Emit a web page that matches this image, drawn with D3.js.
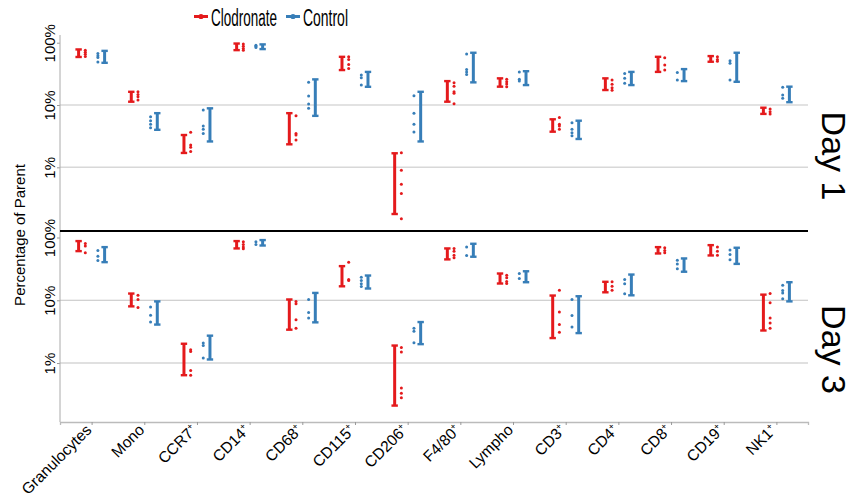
<!DOCTYPE html>
<html>
<head>
<meta charset="utf-8">
<script src="https://cdn.jsdelivr.net/npm/d3@7"></script>
<style>
  body { margin: 0; background: #fff; }
  text { font-family: "Liberation Sans", Arial, sans-serif; fill: #000; }
</style>
</head>
<body>
<div class="chart"></div>
<script>
// categories on the x axis, and whether the label carries a superscript "+"
var cats = ["Granulocytes", "Mono", "CCR7", "CD14", "CD68", "CD115", "CD206",
            "F4/80", "Lympho", "CD3", "CD4", "CD8", "CD19", "NK1"];
var plusMark = [false, false, true, true, true, true, true, true, false, true, true, true, true, true];
var groups = ["Clodronate", "Control"];
var yTicks = [100, 10, 1];

// Day 1 - range bars [low, high] and single samples, in percent of parent
var day1ClodBars = [[59, 78], [11.3, 16.3], [1.7, 3.3], [76, 97], [2.34, 7.4], [36.4, 59.4], [0.178, 1.68],
                    [11.3, 24.2], [19.7, 26.8], [3.73, 5.9], [17.4, 26.8], [34, 59.4], [49.5, 61], [7.2, 9.05]];
var day1ClodPts = [[76, 70, 65, 60], [16.3, 14.8, 13.6, 12], [3.65, 2.28, 2.1, 1.8], [95, 88, 81, 76],
                   [6.7, 3.5, 3.3, 2.75], [59.4, 54, 44.9, 38.7], [1.72, 0.9, 0.536, 0.38, 0.15],
                   [22.8, 20.1, 16.3, 15.4, 10.5], [26, 23.6, 21.7, 19.7], [6.3, 4.9, 4.6, 4.1],
                   [25.2, 21.5, 19, 17.2], [57.3, 43.8, 36.4], [59.4, 54, 50.6], [8.6, 7.8, 7.2]];
var day1CtrlBars = [[47.6, 74], [4.0, 7.4], [2.6, 8.85], [79, 94], [6.7, 25.8], [19.6, 34], [2.6, 16.3],
                    [23.1, 69], [20.9, 34.9], [2.85, 5.6], [20.9, 34], [24.2, 37.7], [23.6, 69], [11.1, 19.7]];
var day1CtrlPts = [[67, 62, 58, 49], [6.5, 5.6, 4.9, 4.3], [8.3, 4.6, 4.1, 3.5], [91, 88, 84],
                   [23.1, 13.9, 10.4, 8.85], [30.2, 27.4, 20.9], [14.1, 7.4, 4.9, 3.7],
                   [65.6, 37.3, 34, 31], [34, 25.8, 24.2], [5.2, 4.07, 3.6, 3.2],
                   [32, 26.8, 22.3], [33.4, 25.2], [51.3, 46.6, 25.2], [19.2, 14.5, 12.8]];

// Day 3
var day3ClodBars = [[60.7, 87.7], [8.0, 12.8], [0.64, 2.03], [67, 87.7], [3.4, 10.3], [16.7, 35], [0.21, 1.9],
                    [44.8, 67], [18.5, 26.7], [2.5, 11.9], [13.4, 19.7], [55.7, 70.3], [51.8, 75.6], [3.3, 12.3]];
var day3ClodPts = [[80.5, 73, 57], [12, 10.3, 7.7], [1.63, 1.53, 0.76, 0.64], [85.6, 77.5, 70.3, 66],
                   [9.6, 8.8, 4.9, 3.6], [40.5, 21.4, 20.6], [1.77, 1.5, 0.4, 0.33, 0.28],
                   [67, 60.6, 52.3, 47.5], [25, 22.8, 20, 18.5], [14.4, 6.5, 4.1, 3.1],
                   [19.7, 16.7, 14.4], [68.7, 62, 57], [70.3, 60.6, 52.3], [12.8, 9.1, 5.2, 4.35, 3.6]];
var day3CtrlBars = [[40.5, 70.3], [4.1, 9.6], [1.14, 2.73], [74.6, 91], [4.45, 13.1], [15.4, 24.8], [2, 4.5],
                    [49.4, 79.5], [19.4, 29], [3.0, 11.6], [12, 25.7], [28.5, 46.4], [38, 68.7], [9.6, 19.4]];
var day3CtrlPts = [[62, 50.5, 43], [7.8, 5.8, 4.5], [2.08, 1.9, 1.2], [85.6, 77.5],
                   [10.3, 6.4, 5.2], [23.3, 20.6, 18.3, 16.6], [3.6, 3.2, 2.1],
                   [70.3, 51.8], [26.7, 22.2], [10.3, 5.7, 3.75],
                   [21.4, 18.3, 12.7], [43.6, 38, 31.7], [63, 53.7, 44.3], [17.4, 14.3, 13.1, 10.6]];

var colors = {Clodronate: "#e41a1c", Control: "#377eb8"};

var svgWidth = 853, svgHeight = 503;
var left = 60, right = 808;

var svg = d3.select(".chart").append("svg")
  .attr("width", svgWidth)
  .attr("height", svgHeight);

var x = d3.scalePoint().domain(cats).range([left, right]).padding(0.6);

// two stacked log panels
var panels = [
  {label: "Day 1", top: 35, bottom: 231, domain: [0.095, 133],
   series: [["Clodronate", day1ClodBars, day1ClodPts], ["Control", day1CtrlBars, day1CtrlPts]],
   grid: "#d8d8d8", gridW: 1.6},
  {label: "Day 3", top: 231, bottom: 422, domain: [0.115, 127],
   series: [["Clodronate", day3ClodBars, day3ClodPts], ["Control", day3CtrlBars, day3CtrlPts]],
   grid: "#c2c2c2", gridW: 1.1}
];

// offsets of bar / dots relative to category tick
var offs = {Clodronate: {bar: -13, pts: -6.3}, Control: {bar: 13, pts: 6.3}};

panels.forEach(function(p, pi) {
  var y = d3.scaleLog().domain(p.domain).range([p.bottom, p.top]);
  var g = svg.append("g");

  // gridlines at 10% and 1%
  g.selectAll(".grid").data([10, 1]).enter().append("line")
    .attr("x1", left).attr("x2", right)
    .attr("y1", d => y(d)).attr("y2", d => y(d))
    .attr("stroke", p.grid).attr("stroke-width", p.gridW);

  // left axis, labels turned upright along the axis
  var axis = g.append("g")
    .attr("transform", `translate(${left},0)`)
    .call(d3.axisLeft(y).tickValues(yTicks).tickSize(3).tickFormat(d => d + "%"));
  axis.select(".domain").remove();
  axis.selectAll("line").attr("stroke", "#999");
  axis.selectAll("text")
    .attr("x", 0).attr("y", 0).attr("dy", 0)
    .attr("transform", "translate(-5,0) rotate(-90)")
    .attr("text-anchor", "middle")
    .attr("font-size", 15)
    .attr("font-family", "'Liberation Sans', Arial, sans-serif")
    .attr("fill", "#000");

  p.series.forEach(function(s) {
    var name = s[0], bars = s[1], pts = s[2], col = colors[name];
    var bg = g.append("g");
    bars.forEach(function(b, i) {
      var cx = x(cats[i]) + offs[name].bar;
      bg.append("line")
        .attr("x1", cx).attr("x2", cx)
        .attr("y1", y(b[0])).attr("y2", y(b[1]))
        .attr("stroke", col).attr("stroke-width", 3);
      [b[0], b[1]].forEach(function(v) {
        bg.append("line")
          .attr("x1", cx - 3.2).attr("x2", cx + 3.2)
          .attr("y1", y(v)).attr("y2", y(v))
          .attr("stroke", col).attr("stroke-width", 2.4);
      });
      pts[i].forEach(function(v) {
        bg.append("circle")
          .attr("cx", x(cats[i]) + offs[name].pts)
          .attr("cy", y(v))
          .attr("r", 1.5)
          .attr("fill", col);
      });
    });
  });

  // strip label
  var cy = (p.top + p.bottom) / 2 + 23;
  svg.append("text")
    .attr("transform", `translate(822,${cy}) rotate(90)`)
    .attr("text-anchor", "middle")
    .attr("font-size", 34)
    .text(p.label);
});

// left axis line spanning both panels
svg.append("line")
  .attr("x1", left).attr("x2", left).attr("y1", 35).attr("y2", 422)
  .attr("stroke", "#aaa").attr("stroke-width", 1);

// separator between panels
svg.append("line")
  .attr("x1", left).attr("x2", right).attr("y1", 231).attr("y2", 231)
  .attr("stroke", "#000").attr("stroke-width", 2);

// bottom axis
var xAxis = svg.append("g")
  .attr("transform", "translate(0,422)")
  .call(d3.axisBottom(x).tickSize(3).tickFormat(""));
xAxis.select(".domain").attr("stroke", "#bbb").attr("stroke-width", 1.3);
xAxis.selectAll("line").attr("stroke", "#999");

cats.forEach(function(c, i) {
  var t = svg.append("text")
    .attr("transform", `translate(${x(c) + 1},431) rotate(-45)`)
    .attr("text-anchor", "end")
    .attr("font-size", 15.5);
  t.append("tspan").text(c);
  if (plusMark[i]) {
    t.append("tspan").attr("font-size", 9).attr("dy", -6).text("+");
  }
});

// y title
svg.append("text")
  .attr("transform", "translate(25,235) rotate(-90)")
  .attr("text-anchor", "middle")
  .attr("font-size", 15)
  .text("Percentage of Parent");

// legend (condensed type: squeeze each label to its width)
var legX = [194, 286], legW = [66, 45];
groups.forEach(function(gname, i) {
  var lg = svg.append("g").attr("transform", `translate(${legX[i]},0)`);
  lg.append("line").attr("x1", 0).attr("x2", 14).attr("y1", 16.5).attr("y2", 16.5)
    .attr("stroke", colors[gname]).attr("stroke-width", 3);
  lg.append("circle").attr("cx", 7).attr("cy", 16.5).attr("r", 2.6).attr("fill", colors[gname]);
  var txt = lg.append("text")
    .attr("font-size", 24)
    .text(gname);
  var natural = txt.node().getComputedTextLength();
  txt.attr("transform", `translate(17,26) scale(${legW[i] / natural},1)`);
});
</script>
</body>
</html>
